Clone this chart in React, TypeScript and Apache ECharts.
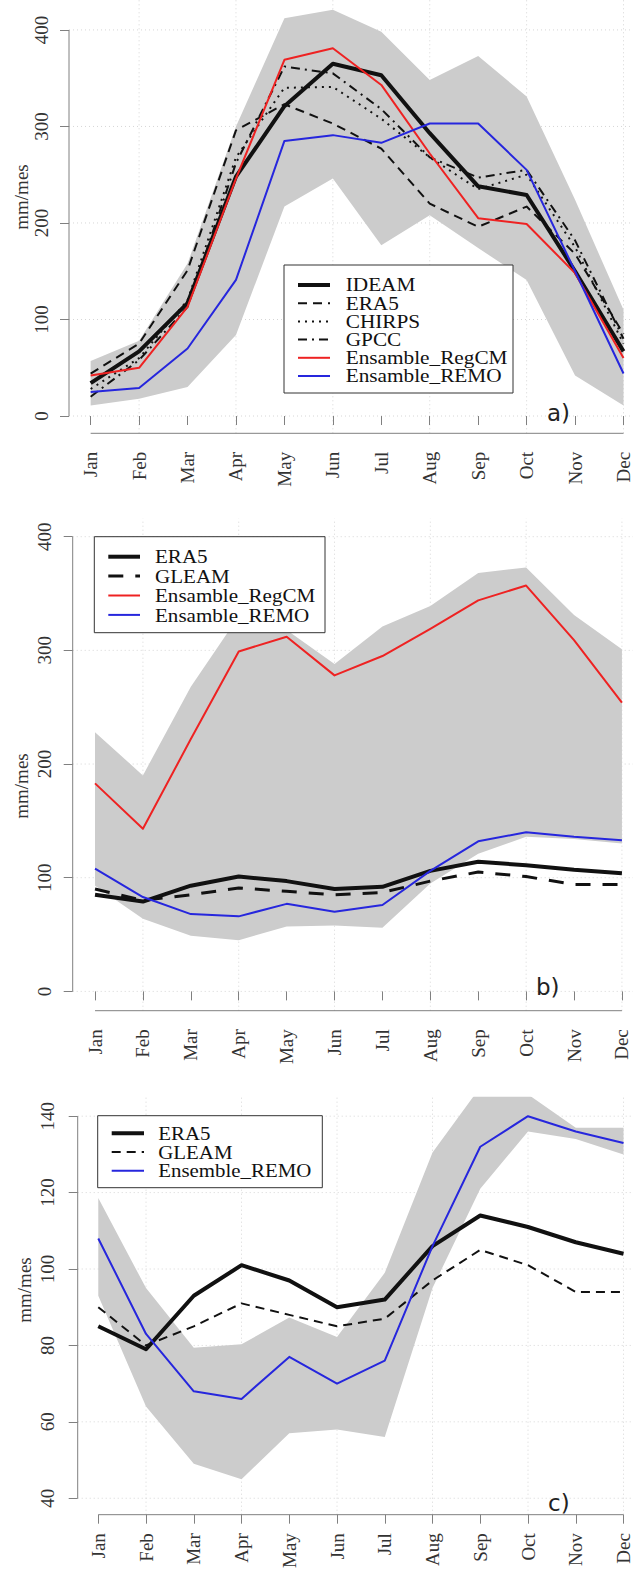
import React, { useEffect, useRef } from "react";
import * as echarts from "echarts";

// ---------- data ----------
const months = ["Jan", "Feb", "Mar", "Apr", "May", "Jun", "Jul", "Aug", "Sep", "Oct", "Nov", "Dec"];
const monthPos = [1, 2, 3, 4, 5, 6, 7, 8, 9, 10, 11, 12];
const gridMonths = [2, 4, 6, 8, 10, 12];

// panel a)
const aIDEAM = [34, 67, 117, 248, 321, 365, 353, 293, 238, 229, 150, 67];
const aERA5 = [44, 75, 151, 296, 323, 303, 277, 220, 196, 217, 168, 85];
const aCHIRPS = [28, 60, 120, 268, 340, 341, 308, 268, 235, 250, 175, 75];
const aGPCC = [20, 58, 113, 262, 362, 355, 318, 268, 247, 255, 182, 80];
const aRegCM = [42, 50, 113, 246, 369, 381, 343, 272, 205, 199, 148, 60];
const aREMO = [25, 29, 70, 141, 285, 291, 283, 303, 303, 255, 150, 44];
const aBandUpper = [57, 78, 158, 300, 412, 421, 398, 348, 373, 331, 224, 110];
const aBandLower = [11, 18, 30, 84, 217, 246, 177, 208, 174, 141, 42, 11];
const aTicks = [0, 100, 200, 300, 400];

// panels b) and c)
const era5 = [85, 79, 93, 101, 97, 90, 92, 106, 114, 111, 107, 104];
const gleam = [90, 80, 85, 91, 88, 85, 87, 97, 105, 101, 94, 94];
const remo = [108, 83, 68, 66, 77, 70, 76, 106, 132, 140, 136, 133];
const bRegCM = [183, 143, 222, 299, 312, 278, 295, 319, 344, 357, 309, 254];
const bBandUpper = [228, 190, 268, 330, 318, 288, 321, 339, 368, 373, 331, 301];
const remoBandLower = [93, 64, 49, 45, 57, 58, 56, 95, 121, 136, 134, 130];
const cBandUpper = [118.6, 95, 79.4, 80.3, 87.3, 82.2, 99, 130.5, 147.6, 145.7, 137, 137];
const bTicks = [0, 100, 200, 300, 400];
const cTicks = [40, 60, 80, 100, 120, 140];

// ---------- styles ----------
const SERIF = "'Liberation Serif', 'Times New Roman', serif";
const BLACK = "#111111";
const RED = "#ee2222";
const BLUE = "#2626dd";
const BAND = "#cccccc";
const AXIS = "#808080";
const GRIDC = "#d6d6d6";
const TEXT = "#333333";

type LineDef = { name: string; data: number[]; color: string; width: number; dash: any };

const panels = [
  {
    grid: { left: 69, top: 0, width: 564, height: 433.3 },
    x: [0.553, 12.17],
    y: [-17.9, 431],
    ticks: aTicks,
    band: [aBandLower, aBandUpper],
    lines: [
      { name: "IDEAM", data: aIDEAM, color: BLACK, width: 4, dash: "solid" },
      { name: "ERA5", data: aERA5, color: BLACK, width: 2, dash: [9, 6] },
      { name: "CHIRPS", data: aCHIRPS, color: BLACK, width: 2, dash: [2, 5] },
      { name: "GPCC", data: aGPCC, color: BLACK, width: 2, dash: [9, 5, 2, 5] },
      { name: "Ensamble_RegCM", data: aRegCM, color: RED, width: 2, dash: "solid" },
      { name: "Ensamble_REMO", data: aREMO, color: BLUE, width: 2, dash: "solid" },
    ] as LineDef[],
    legend: { x: 284, y: 265, w: 229, h: 128, row0: 20, rowGap: 18.2, lx1: 14, lx2: 46, tx: 61.7, fs: 18.5, sx: 1.15 },
    ylab: { x: 21, y: 197 },
    tag: { text: "a)", x: 547, y: 413 },
    yMargin: 18.5,
  },
  {
    grid: { left: 72.7, top: 518.5, width: 560.3, height: 492.2 },
    x: [0.534, 12.231],
    y: [-17, 416],
    ticks: bTicks,
    band: [remoBandLower, bBandUpper],
    lines: [
      { name: "ERA5", data: era5, color: BLACK, width: 4, dash: "solid" },
      { name: "GLEAM", data: gleam, color: BLACK, width: 3, dash: [15, 12] },
      { name: "Ensamble_RegCM", data: bRegCM, color: RED, width: 2, dash: "solid" },
      { name: "Ensamble_REMO", data: remo, color: BLUE, width: 2, dash: "solid" },
    ] as LineDef[],
    legend: { x: 94.3, y: 536.7, w: 230.7, h: 96, row0: 20, rowGap: 19.4, lx1: 14, lx2: 45.7, tx: 60.7, fs: 19.5, sx: 1.08 },
    ylab: { x: 21, y: 786 },
    tag: { text: "b)", x: 536, y: 987 },
    yMargin: 19,
  },
  {
    grid: { left: 77.7, top: 1096.7, width: 555.3, height: 424.3 },
    x: [0.569, 12.198],
    y: [35.7, 145.1],
    ticks: cTicks,
    band: [remoBandLower, cBandUpper],
    lines: [
      { name: "ERA5", data: era5, color: BLACK, width: 4, dash: "solid" },
      { name: "GLEAM", data: gleam, color: BLACK, width: 2, dash: [9, 6] },
      { name: "Ensemble_REMO", data: remo, color: BLUE, width: 2, dash: "solid" },
    ] as LineDef[],
    legend: { x: 97.7, y: 1115.7, w: 224.6, h: 72, row0: 17.6, rowGap: 18.7, lx1: 14, lx2: 46.3, tx: 60.6, fs: 18.8, sx: 1.11 },
    ylab: { x: 24, y: 1290 },
    tag: { text: "c)", x: 548, y: 1503 },
    yMargin: 21,
  },
];

function buildOption() {
  const grid: any[] = [];
  const xAxis: any[] = [];
  const yAxis: any[] = [];
  const series: any[] = [];
  panels.forEach((p, i) => {
    grid.push({ ...p.grid, containLabel: false });
    xAxis.push({
      type: "value",
      gridIndex: i,
      min: p.x[0],
      max: p.x[1],
      axisLine: { show: false },
      axisTick: { show: true, customValues: monthPos, length: 9, lineStyle: { color: AXIS, width: 1 } },
      axisLabel: {
        show: true,
        customValues: monthPos,
        formatter: (v: number) => months[Math.round(v) - 1],
        rotate: 90,
        margin: 18.5,
        fontFamily: SERIF,
        fontSize: 19,
        color: TEXT,
      },
      splitLine: { show: false },
    });
    yAxis.push({
      type: "value",
      gridIndex: i,
      min: p.y[0],
      max: p.y[1],
      axisLine: { show: false },
      axisTick: { show: true, customValues: p.ticks, length: 9, lineStyle: { color: AXIS, width: 1 } },
      axisLabel: {
        show: true,
        customValues: p.ticks,
        rotate: 90,
        margin: p.yMargin,
        fontFamily: SERIF,
        fontSize: 19,
        color: TEXT,
      },
      splitLine: { show: false },
    });
    const lower = p.band[0];
    const upper = p.band[1];
    series.push({
      type: "custom",
      name: "band" + i,
      xAxisIndex: i,
      yAxisIndex: i,
      clip: true,
      silent: true,
      z: 1,
      data: monthPos.map((m, k) => [m, lower[k], upper[k]]),
      encode: { x: 0, y: [1, 2] },
      renderItem: (params: any, api: any) => {
        if (params.dataIndex !== 0) return null;
        const top = monthPos.map((m, k) => api.coord([m, upper[k]]));
        const bot = monthPos.map((m, k) => api.coord([m, lower[k]])).reverse();
        return {
          type: "polygon",
          shape: { points: top.concat(bot) },
          style: { fill: BAND, stroke: null },
        };
      },
    });
    p.lines.forEach((l, j) => {
      series.push({
        type: "line",
        name: l.name,
        xAxisIndex: i,
        yAxisIndex: i,
        data: monthPos.map((m, k) => [m, l.data[k]]),
        symbol: "none",
        showSymbol: false,
        silent: true,
        clip: true,
        z: 3 + j,
        lineStyle: { color: l.color, width: l.width, type: l.dash, join: "round" },
      });
    });
  });
  return {
    animation: false,
    backgroundColor: "#ffffff",
    grid,
    xAxis,
    yAxis,
    series,
  };
}

function buildGraphic(chart: any) {
  const g: any[] = [];
  panels.forEach((p, i) => {
    const px = (x: number, y: number) => chart.convertToPixel({ gridIndex: i }, [x, y]);
    // dotted reference grid
    p.ticks.forEach((t) => {
      const a = px(p.x[0], t);
      const b = px(p.x[1], t);
      g.push({
        type: "line",
        silent: true,
        z: 0,
        shape: { x1: a[0], y1: a[1], x2: b[0], y2: b[1] },
        style: { stroke: GRIDC, lineWidth: 1, lineDash: [1, 3] },
      });
    });
    gridMonths.forEach((m) => {
      const a = px(m, p.y[0]);
      const b = px(m, p.y[1]);
      g.push({
        type: "line",
        silent: true,
        z: 0,
        shape: { x1: a[0], y1: a[1], x2: b[0], y2: b[1] },
        style: { stroke: GRIDC, lineWidth: 1, lineDash: [1, 3] },
      });
    });
    // R-style axis lines (first to last tick)
    const ya = px(p.x[0], p.ticks[0]);
    const yb = px(p.x[0], p.ticks[p.ticks.length - 1]);
    g.push({
      type: "line",
      silent: true,
      z: 10,
      shape: { x1: ya[0], y1: ya[1], x2: yb[0], y2: yb[1] },
      style: { stroke: AXIS, lineWidth: 1 },
    });
    const xa = px(monthPos[0], p.y[0]);
    const xb = px(monthPos[monthPos.length - 1], p.y[0]);
    g.push({
      type: "line",
      silent: true,
      z: 10,
      shape: { x1: xa[0], y1: xa[1], x2: xb[0], y2: xb[1] },
      style: { stroke: AXIS, lineWidth: 1 },
    });
    // legend box
    const L = p.legend;
    const children: any[] = [
      {
        type: "rect",
        z: 20,
        shape: { x: 0, y: 0, width: L.w, height: L.h },
        style: { fill: "#ffffff", stroke: "#333333", lineWidth: 1 },
      },
    ];
    p.lines.forEach((l, k) => {
      const cy = L.row0 + k * L.rowGap;
      children.push({
        type: "line",
        z: 21,
        shape: { x1: L.lx1, y1: cy, x2: L.lx2, y2: cy },
        style: {
          stroke: l.color,
          lineWidth: l.width,
          lineDash: l.dash === "solid" ? null : l.dash,
        },
      });
      children.push({
        type: "text",
        z: 21,
        x: L.tx,
        y: cy,
        scaleX: L.sx,
        scaleY: 1,
        style: {
          text: l.name,
          fontFamily: SERIF,
          fontSize: L.fs,
          fill: BLACK,
          align: "left",
          verticalAlign: "middle",
        },
      });
    });
    g.push({ type: "group", x: L.x, y: L.y, z: 20, children });
    // y axis title
    g.push({
      type: "text",
      z: 10,
      x: p.ylab.x,
      y: p.ylab.y,
      rotation: Math.PI / 2,
      style: {
        text: "mm/mes",
        fontFamily: SERIF,
        fontSize: 19,
        fill: TEXT,
        align: "center",
        verticalAlign: "middle",
      },
    });
    // panel tag
    g.push({
      type: "text",
      z: 10,
      x: p.tag.x,
      y: p.tag.y,
      style: {
        text: p.tag.text,
        fontFamily: "'DejaVu Sans', sans-serif",
        fontSize: 23,
        fill: "#222222",
        align: "left",
        verticalAlign: "middle",
      },
    });
  });
  return g;
}

export default function App() {
  const ref = useRef<HTMLDivElement>(null);
  useEffect(() => {
    document.body.style.margin = "0";
    document.body.style.background = "#ffffff";
    const chart = echarts.init(ref.current as HTMLDivElement, null, { renderer: "svg" });
    chart.setOption(buildOption());
    chart.setOption({ graphic: buildGraphic(chart) });
    return () => chart.dispose();
  }, []);
  return <div ref={ref} style={{ width: 633, height: 1571, background: "#ffffff" }} />;
}
